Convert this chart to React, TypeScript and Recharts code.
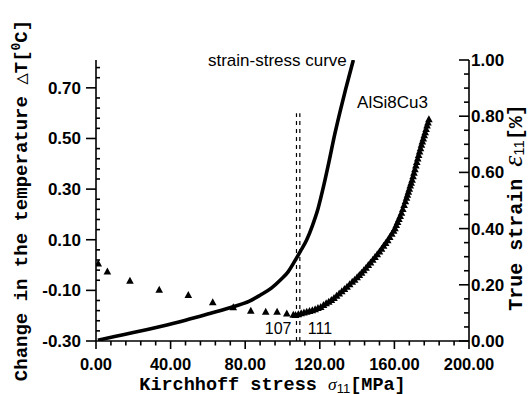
import React from "react";
import {
  ComposedChart,
  Line,
  Scatter,
  XAxis,
  YAxis,
  ReferenceLine,
  ReferenceDot,
  Label,
} from "recharts";

// strain-stress curve, read against the right axis (true strain %)
const curveStress = [1, 10, 20, 34, 48, 61, 74, 82, 88, 94, 99, 103, 106, 109.5, 113, 116, 119, 122, 125, 128, 131, 134, 136, 138];
const curveStrain = [0.003, 0.016, 0.03, 0.051, 0.074, 0.098, 0.123, 0.141, 0.163, 0.188, 0.218, 0.246, 0.278, 0.318, 0.36, 0.41, 0.47, 0.55, 0.64, 0.735, 0.82, 0.9, 0.95, 1.0];

// AlSi8Cu3 temperature change, read against the left axis
const tempStress = [
  1.2, 6.1, 18.2, 33.9, 49.5, 62.6, 73.6, 83, 91, 97.1, 102.3, 105.8,
  107, 108.5, 110, 111.5, 113, 114.5, 116, 117.5, 119, 120.5,
  122, 123.4, 124.8, 126.2, 127.6, 129, 130.4, 131.8, 133.2, 134.6, 136, 137.4, 138.7,
  140, 141.2, 142.4, 143.6, 144.8, 146, 147.2, 148.4, 149.6, 150.8, 152,
  153.1, 154.2, 155.3, 156.4, 157.5, 158.6, 159.6,
  160.3, 161, 161.7, 162.4, 163.1, 163.8, 164.5, 165.2, 165.9, 166.5,
  167, 167.5, 168, 168.5, 169, 169.5, 170, 170.5, 171, 171.5, 172, 172.5, 173, 173.5,
  174, 174.5, 175, 175.5, 176, 176.5, 177, 177.5, 178, 178.5,
];
const tempChange = [
  0.005, -0.026, -0.063, -0.098, -0.119, -0.148, -0.167, -0.181, -0.185, -0.185, -0.192, -0.197,
  -0.198, -0.195, -0.191, -0.188, -0.185, -0.182, -0.179, -0.175, -0.17, -0.166,
  -0.159, -0.152, -0.146, -0.139, -0.131, -0.122, -0.113, -0.104, -0.095, -0.086, -0.077, -0.067, -0.059,
  -0.049, -0.04, -0.031, -0.021, -0.011, -0.001, 0.009, 0.02, 0.031, 0.042, 0.053,
  0.064, 0.075, 0.086, 0.097, 0.11, 0.123, 0.135,
  0.145, 0.157, 0.169, 0.181, 0.193, 0.206, 0.221, 0.236, 0.251, 0.265,
  0.277, 0.289, 0.301, 0.313, 0.324, 0.336, 0.35, 0.364, 0.378, 0.392, 0.406, 0.42, 0.434, 0.448,
  0.461, 0.474, 0.487, 0.499, 0.512, 0.524, 0.537, 0.55, 0.562, 0.575,
];

const xMajor = [0, 40, 80, 120, 160, 200];
const xLabels = ["0.00", "40.00", "80.00", "120.00", "160.00", "200.00"];
const leftMajor = [-0.3, -0.1, 0.1, 0.3, 0.5, 0.7];
const leftLabels = ["-0.30", "-0.10", "0.10", "0.30", "0.50", "0.70"];
const rightMajor = [0, 0.2, 0.4, 0.6, 0.8, 1.0];
const rightLabels = ["0.00", "0.20", "0.40", "0.60", "0.80", "1.00"];

const markerStress = [107.5, 109.3];
const markerLabels = ["107", "111"];
const markerTop = 0.6;

const steps = (from: number, to: number, step: number) => {
  const out: number[] = [];
  for (let i = 0; from + i * step <= to + 1e-9; i++) out.push(+(from + i * step).toFixed(4));
  return out;
};
const xTicks = steps(0, 200, 8);
const leftTicks = steps(-0.3, 0.8, 0.04);
const rightTicks = steps(0, 1, 0.05);

const curveData = curveStress.map((x, i) => ({ x, strain: curveStrain[i] }));
const tempData = tempStress.map((x, i) => ({ x, dT: tempChange[i] }));

const TICK_FONT = { fontFamily: "'Liberation Sans', Arial, sans-serif", fontWeight: 700, fontSize: 17 };
const TITLE_FONT = { fontFamily: "'Liberation Mono', 'Courier New', monospace", fontWeight: 700, fontSize: 19 };
const NOTE_FONT = { fontFamily: "'Liberation Sans', Arial, sans-serif", fontSize: 17 };
const SERIF = "'Liberation Serif', 'DejaVu Serif', serif";

function AxisTick(props: any) {
  const { x, y, payload, side, majors, labels } = props;
  const idx = majors.findIndex((m: number) => Math.abs(m - payload.value) < 1e-6);
  const major = idx >= 0;
  const s = { stroke: "#000", strokeWidth: 1.6 };
  if (side === "bottom") {
    return (
      <g>
        <line x1={x} y1={y} x2={x} y2={y + (major ? 8 : 4.5)} {...s} />
        {major && (
          <text x={x} y={y + 29} textAnchor="middle" fill="#000" style={{ ...TICK_FONT, fontSize: 16.5 }}>
            {labels[idx]}
          </text>
        )}
      </g>
    );
  }
  if (side === "left") {
    return (
      <g>
        {major ? <line x1={x - 10} y1={y} x2={x} y2={y} {...s} /> : <line x1={x} y1={y} x2={x + 4} y2={y} {...s} />}
        {major && (
          <text x={x - 15} y={y + 6} textAnchor="end" fill="#000" style={TICK_FONT}>
            {labels[idx]}
          </text>
        )}
      </g>
    );
  }
  return (
    <g>
      <line x1={x - (major ? 10 : 5)} y1={y} x2={x} y2={y} {...s} />
      {major && (
        <text x={x + 2} y={y + 6} textAnchor="start" fill="#000" style={TICK_FONT}>
          {labels[idx]}
        </text>
      )}
    </g>
  );
}

const Tri = (p: any) => {
  const { cx, cy } = p;
  if (cx == null || cy == null) return null;
  return <path d={`M${cx},${cy - 4.2}L${cx + 3.8},${cy + 2.8}L${cx - 3.8},${cy + 2.8}Z`} fill="#000" />;
};

const LeftTitle = (props: any) => {
  const { x, y, height } = props.viewBox;
  const cx = x + 22;
  const cy = y + height / 2;
  return (
    <text transform={`translate(${cx},${cy}) rotate(-90)`} textAnchor="middle" dominantBaseline="central" fill="#000" style={TITLE_FONT}>
      {"Change in the temperature \u25B3T["}
      <tspan fontSize={13} dy={-6}>0</tspan>
      <tspan dy={6}>C]</tspan>
    </text>
  );
};

const RightTitle = (props: any) => {
  const { x, y, height } = props.viewBox;
  const cx = x + 47;
  const cy = y + height / 2 + 7;
  return (
    <text transform={`translate(${cx},${cy}) rotate(-90)`} textAnchor="middle" dominantBaseline="central" fill="#000" style={{ ...TITLE_FONT, fontSize: 20 }}>
      {"True strain "}
      <tspan fontFamily={SERIF} fontStyle="italic" fontWeight={400} fontSize={28} dy={-4}>{"\u03B5"}</tspan>
      <tspan fontFamily="'Liberation Sans', Arial" fontWeight={400} fontSize={15} dy={6}>11</tspan>
      <tspan dy={-2}>[%]</tspan>
    </text>
  );
};

const BottomTitle = (props: any) => {
  const { x, y, width } = props.viewBox;
  return (
    <text x={x + width / 2 - 10} y={y + 48.5} textAnchor="middle" fill="#000" style={{ ...TITLE_FONT, fontSize: 18.5 }}>
      {"Kirchhoff stress "}
      <tspan fontFamily={SERIF} fontStyle="italic" fontWeight={400} fontSize={17.5}>{"\u03C3"}</tspan>
      <tspan fontFamily="'Liberation Sans', Arial" fontWeight={400} fontSize={13} dy={3}>11</tspan>
      <tspan dy={-3}>[MPa]</tspan>
    </text>
  );
};

export default function App() {
  return (
    <div style={{ position: "absolute", left: 0, top: 0, background: "#fff" }}>
      <ComposedChart width={532} height={394} margin={{ top: 60, right: 0, bottom: 0, left: 0 }}>
        <XAxis
          type="number"
          dataKey="x"
          domain={[0, 200]}
          ticks={xTicks}
          interval={0}
          allowDataOverflow
          height={53}
          tickSize={0}
          tickMargin={0}
          tickLine={false}
          axisLine={{ stroke: "#000", strokeWidth: 1.6 }}
          tick={(p: any) => <AxisTick {...p} side="bottom" majors={xMajor} labels={xLabels} />}
        >
          <Label content={BottomTitle} />
        </XAxis>
        <YAxis
          yAxisId="left"
          type="number"
          domain={[-0.3, 0.81]}
          ticks={leftTicks}
          interval={0}
          allowDataOverflow
          width={96}
          tickSize={0}
          tickMargin={0}
          tickLine={false}
          axisLine={{ stroke: "#000", strokeWidth: 1.6 }}
          tick={(p: any) => <AxisTick {...p} side="left" majors={leftMajor} labels={leftLabels} />}
        >
          <Label content={LeftTitle} />
        </YAxis>
        <YAxis
          yAxisId="right"
          orientation="right"
          type="number"
          domain={[0, 1]}
          ticks={rightTicks}
          interval={0}
          allowDataOverflow
          width={63}
          tickSize={0}
          tickMargin={0}
          tickLine={false}
          axisLine={{ stroke: "#000", strokeWidth: 1.6 }}
          tick={(p: any) => <AxisTick {...p} side="right" majors={rightMajor} labels={rightLabels} />}
        >
          <Label content={RightTitle} />
        </YAxis>

        {markerStress.map((s, i) => (
          <ReferenceLine
            key={s}
            yAxisId="left"
            segment={[{ x: s, y: -0.3 }, { x: s, y: markerTop }]}
            stroke="#000"
            strokeWidth={1.2}
            strokeDasharray="4 4"
            label={(p: any) => {
              const vb = p.viewBox;
              const left = i === 0;
              return (
                <text
                  x={left ? vb.x - 5 : vb.x + 8}
                  y={vb.y + vb.height - 7}
                  textAnchor={left ? "end" : "start"}
                  fill="#000"
                  style={{ ...NOTE_FONT, fontSize: 16 }}
                >
                  {markerLabels[i]}
                </text>
              );
            }}
          />
        ))}

        <Line
          yAxisId="right"
          data={curveData}
          dataKey="strain"
          type="monotone"
          stroke="#000"
          strokeWidth={3.6}
          dot={false}
          activeDot={false}
          isAnimationActive={false}
        />
        <Scatter yAxisId="left" data={tempData} dataKey="dT" shape={Tri} isAnimationActive={false} />

        <ReferenceDot
          yAxisId="right"
          x={134.5}
          y={0.98}
          r={1}
          fill="none"
          stroke="none"
          label={(p: any) => (
            <text x={p.viewBox.x + p.viewBox.width / 2} y={p.viewBox.y + p.viewBox.height / 2} textAnchor="end" fill="#000" style={NOTE_FONT}>
              strain-stress curve
            </text>
          )}
        />
        <ReferenceDot
          yAxisId="right"
          x={140}
          y={0.828}
          r={1}
          fill="none"
          stroke="none"
          label={(p: any) => (
            <text x={p.viewBox.x + p.viewBox.width / 2} y={p.viewBox.y + p.viewBox.height / 2} textAnchor="start" fill="#000" style={NOTE_FONT}>
              AlSi8Cu3
            </text>
          )}
        />
      </ComposedChart>
    </div>
  );
}
